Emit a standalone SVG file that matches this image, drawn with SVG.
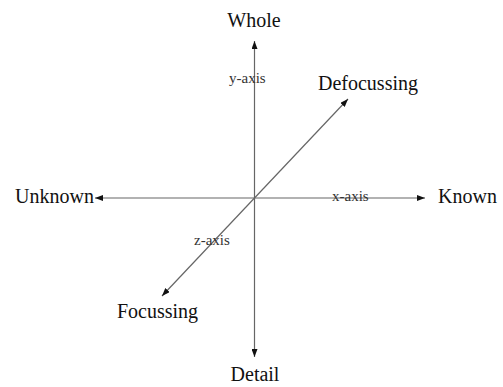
<svg xmlns="http://www.w3.org/2000/svg" width="503" height="387" viewBox="0 0 503 387">
<defs>
<style>
.ax{stroke:#666;stroke-width:1.2;fill:none;marker-end:url(#ah)}
.big{font-family:"Liberation Serif",serif;font-size:20px;fill:#111}
.sm{font-family:"Liberation Serif",serif;font-size:15px;fill:#333}
</style>
<marker id="ah" viewBox="0 0 8 6" refX="8" refY="3" markerWidth="8" markerHeight="6" markerUnits="userSpaceOnUse" orient="auto">
<path d="M0,0 L8,3 L0,6 Z" fill="#111"/>
</marker>
</defs>
<rect width="503" height="387" fill="#fff"/>
<g id="connectors">
<line class="ax" x1="254.5" y1="198" x2="254.5" y2="41"/>
<line class="ax" x1="254.5" y1="198" x2="254.5" y2="357"/>
<line class="ax" x1="254.5" y1="198" x2="95" y2="198"/>
<line class="ax" x1="254.5" y1="198" x2="425" y2="198"/>
<line class="ax" x1="254.5" y1="198" x2="348" y2="99"/>
<line class="ax" x1="254.5" y1="198" x2="162" y2="296"/>
</g>
<g id="whole"><text class="big" x="254" y="27" text-anchor="middle">Whole</text></g>
<g id="detail"><text class="big" x="255" y="381" text-anchor="middle">Detail</text></g>
<g id="unknown"><text class="big" x="15" y="203">Unknown</text></g>
<g id="known"><text class="big" x="438" y="203">Known</text></g>
<g id="defocussing"><text class="big" x="318" y="90">Defocussing</text></g>
<g id="focussing"><text class="big" x="117" y="318">Focussing</text></g>
<g id="y-axis"><text class="sm" x="229" y="83">y-axis</text></g>
<g id="x-axis"><text class="sm" x="332" y="201">x-axis</text></g>
<g id="z-axis"><text class="sm" x="194" y="245">z-axis</text></g>
</svg>
